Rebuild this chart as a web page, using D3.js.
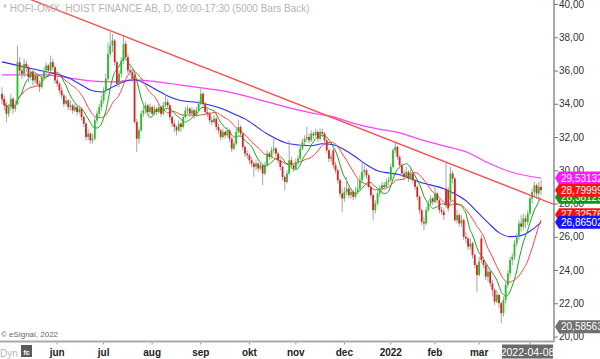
<!DOCTYPE html>
<html><head><meta charset="utf-8">
<script src="https://cdn.jsdelivr.net/npm/d3@7"></script>
<style>body{margin:0;background:#fff}svg{display:block}</style>
</head><body><svg id="c" width="600" height="359"></svg>
<script>
// ---- data ----
const opens=[34.6,34.3,33.9,33.4,33.8,34.3,33.7,34.0,36.5,36.0,35.8,36.4,36.2,35.6,35.9,35.4,35.7,35.2,35.0,35.6,36.0,36.3,36.0,36.5,36.2,35.4,35.2,34.8,34.5,34.0,34.2,33.8,33.9,33.6,33.8,33.5,33.7,33.2,32.8,32.0,32.2,31.8,31.9,33.0,33.4,33.8,34.2,34.8,35.5,37.0,37.5,37.8,36.5,35.2,35.8,36.6,37.6,36.8,36.0,35.9,35.7,32.9,31.9,32.4,33.4,33.6,33.9,33.5,33.8,33.4,33.7,33.5,33.8,33.4,33.9,34.1,33.9,33.2,32.8,32.6,32.4,32.8,32.6,33.2,33.6,33.7,33.4,33.6,33.3,33.6,34.0,34.6,34.0,33.5,33.4,33.0,32.9,33.1,32.6,32.4,32.0,32.3,32.1,32.4,31.9,31.3,31.6,32.3,32.6,32.2,31.4,31.0,30.9,30.6,30.4,30.2,30.4,30.1,30.3,29.8,30.3,31.0,30.8,31.2,31.3,31.0,30.6,30.2,29.6,29.3,29.8,30.6,30.3,30.1,30.5,30.7,31.3,31.7,31.9,32.0,31.8,32.2,32.1,32.3,31.9,32.3,32.2,31.8,31.2,30.7,31.2,30.3,30.0,29.4,28.6,28.3,28.7,28.9,28.5,28.7,28.4,28.7,28.9,29.4,29.9,30.0,29.7,29.0,28.5,27.6,28.0,28.6,28.9,29.1,29.0,29.3,29.4,30.2,31.2,31.4,30.8,30.3,29.8,29.6,29.9,29.5,29.8,29.4,29.0,28.4,27.6,26.9,26.8,27.6,28.0,28.3,28.1,28.6,28.2,27.6,27.5,28.9,28.8,28.2,29.8,29.5,27.0,27.3,26.8,27.0,26.0,25.9,25.4,25.6,24.9,24.3,23.7,25.9,24.6,24.3,23.6,23.9,23.2,22.8,22.1,22.5,22.0,21.4,22.2,23.1,23.8,24.6,24.8,25.6,26.0,26.8,26.6,27.1,26.9,27.4,28.3,28.7,29.1,28.6,29.0];
const highs=[35.0,34.5,34.1,34.0,34.6,34.4,34.2,37.5,36.8,36.3,36.7,36.6,36.3,36.1,36.0,35.9,35.8,35.4,35.8,36.2,36.5,36.4,36.9,36.7,36.3,35.6,35.3,35.0,34.6,34.5,34.3,34.2,34.0,34.0,33.9,33.9,33.8,33.3,32.9,32.5,32.3,32.2,33.2,33.6,34.0,34.5,35.0,35.8,37.7,38.3,38.2,37.9,36.6,36.0,36.8,38.1,37.8,37.0,36.4,36.1,35.8,33.1,32.6,33.6,33.9,34.1,34.0,34.0,33.9,33.9,33.8,34.0,33.9,34.1,34.6,34.3,34.0,33.3,33.0,32.7,33.0,32.9,33.4,33.8,33.9,33.8,33.8,33.7,33.8,34.2,34.9,34.7,34.1,33.7,33.5,33.2,33.3,33.2,32.8,32.5,32.5,32.4,32.6,32.5,32.0,31.8,32.5,33.0,32.7,32.3,31.5,31.2,31.0,30.8,30.5,30.6,30.5,30.5,30.4,30.5,31.2,31.1,31.4,31.9,31.4,31.1,30.7,30.3,29.7,30.0,31.8,30.8,30.4,30.7,30.9,31.5,31.9,32.1,32.6,32.2,32.4,32.3,32.5,32.4,32.5,32.5,32.3,31.9,31.3,31.0,31.4,30.5,30.1,29.5,28.9,29.0,29.6,29.0,28.9,28.8,29.0,29.4,29.7,30.5,30.3,30.1,29.8,29.1,28.6,28.2,28.8,29.1,29.3,29.3,29.5,29.6,30.4,31.3,31.7,31.5,30.9,30.4,30.0,30.2,30.0,30.1,29.9,29.5,29.1,28.5,27.7,27.2,27.8,28.2,28.5,28.4,29.1,28.7,28.3,27.8,27.7,30.5,29.0,30.2,30.0,29.6,27.6,27.4,27.3,27.1,26.3,26.0,25.9,25.7,25.0,24.4,24.8,26.1,24.8,24.4,24.2,24.0,23.4,22.9,22.8,22.6,22.1,22.4,23.3,24.0,24.8,25.0,25.8,26.2,27.0,27.3,27.4,27.3,27.6,28.5,28.9,29.3,29.2,29.3,29.4];
const lows=[34.0,33.6,32.9,33.2,33.6,33.4,33.5,33.9,35.7,35.5,35.6,35.9,35.3,35.4,35.1,35.2,35.0,34.7,34.9,35.4,35.8,35.8,35.9,36.0,35.2,35.0,34.6,34.3,33.8,33.9,33.6,33.6,33.4,33.5,33.3,33.4,33.0,32.6,31.8,31.8,31.6,31.6,31.8,32.8,33.2,33.6,34.0,34.6,35.4,36.8,37.1,36.3,35.0,35.0,35.6,36.4,36.6,35.8,35.7,35.3,32.8,31.1,31.6,32.3,33.2,33.4,33.3,33.4,33.2,33.3,33.3,33.4,33.2,33.3,33.8,33.7,33.0,32.6,32.3,32.1,32.3,32.3,32.5,33.1,33.4,33.2,33.3,33.1,33.2,33.5,33.9,33.8,33.3,33.2,32.8,32.7,32.8,32.4,32.2,31.8,31.9,31.9,32.0,31.7,31.1,31.2,31.5,32.2,32.0,31.2,30.8,30.7,30.4,30.2,29.6,30.0,29.9,30.0,29.1,29.7,30.2,30.6,30.7,31.0,30.8,30.4,30.0,29.4,28.8,29.2,29.7,30.1,29.9,30.0,30.3,30.6,31.2,31.5,31.7,31.6,31.7,31.9,32.0,31.7,31.8,32.0,31.6,31.0,30.5,30.5,30.1,29.8,29.2,28.4,27.5,28.1,28.5,28.3,28.3,28.2,28.3,28.6,28.8,29.3,29.6,29.5,28.9,28.3,27.0,27.4,27.9,28.4,28.7,28.8,28.9,29.1,29.3,30.1,31.0,30.6,30.1,29.6,29.4,29.5,29.3,29.4,29.2,28.8,28.2,27.4,26.7,26.4,26.7,27.5,27.8,27.9,28.0,28.0,27.4,27.3,27.0,27.7,27.5,28.0,29.2,26.9,26.8,26.6,26.6,25.8,25.6,25.2,25.2,24.7,24.1,22.7,23.6,24.4,24.1,23.4,23.3,23.0,22.4,21.9,22.0,21.7,20.8,21.2,22.0,22.9,23.6,24.3,24.6,25.4,25.8,26.3,26.4,26.5,26.7,27.3,28.0,28.4,28.3,28.0,28.5];
const closes=[34.3,33.9,33.4,33.8,34.3,33.7,33.9,36.5,36.0,35.8,36.4,36.2,35.6,35.9,35.4,35.7,35.2,35.0,35.6,36.0,36.3,36.0,36.5,36.2,35.4,35.2,34.8,34.5,34.0,34.2,33.8,33.9,33.6,33.8,33.5,33.7,33.2,32.8,32.0,32.2,31.8,31.9,33.0,33.4,33.8,34.2,34.8,35.5,37.0,37.5,37.8,36.5,35.2,35.8,36.6,37.6,36.8,36.0,35.9,35.5,32.9,31.9,32.4,33.4,33.6,33.9,33.5,33.8,33.4,33.7,33.5,33.8,33.4,33.9,34.1,33.9,33.2,32.8,32.6,32.4,32.8,32.6,33.2,33.6,33.7,33.4,33.6,33.3,33.6,34.0,34.6,34.0,33.5,33.4,33.0,32.9,33.1,32.6,32.4,32.0,32.3,32.1,32.4,31.9,31.3,31.6,32.3,32.6,32.2,31.4,31.0,30.9,30.6,30.4,30.2,30.4,30.1,30.3,29.8,30.3,31.0,30.8,31.2,31.3,31.0,30.6,30.2,29.6,29.3,29.8,30.6,30.3,30.1,30.5,30.7,31.3,31.7,31.9,32.0,31.8,32.2,32.1,32.3,31.9,32.3,32.2,31.8,31.2,30.7,30.8,30.3,30.0,29.4,28.6,28.3,28.7,28.9,28.5,28.7,28.4,28.7,28.9,29.4,29.9,30.0,29.7,29.0,28.5,27.6,28.0,28.6,28.9,29.1,29.0,29.3,29.4,30.2,31.2,31.4,30.8,30.3,29.8,29.6,29.9,29.5,29.8,29.4,29.0,28.4,27.6,26.9,26.8,27.6,28.0,28.3,28.1,28.6,28.2,27.6,27.5,27.3,27.9,27.7,29.8,29.5,27.0,27.3,26.8,27.0,26.0,25.9,25.4,25.6,24.9,24.3,23.7,24.5,24.6,24.3,23.6,23.9,23.2,22.8,22.1,22.5,22.0,21.4,22.2,23.1,23.8,24.6,24.8,25.6,26.0,26.8,26.6,27.1,26.9,27.4,28.3,28.7,29.1,28.6,29.0,28.8];

// longer moving averages at bar indices
const blueIdx=[0,10,20,30,35,40,45,50,55,60,65,70,75,80,90,100,105,110,120,130,140,145,150,155,160,165,170,180,190,200,205,210,215,220,225,230,235,240,244];
const blueVal=[36.52,36.22,35.92,35.56,35.2,34.83,34.71,35.0,35.32,35.44,35.2,34.83,34.47,34.23,34.05,33.69,33.39,33.09,32.19,31.59,31.47,31.59,31.53,31.23,30.81,30.33,29.97,29.73,29.25,28.89,28.59,28.17,27.51,26.85,26.25,26.01,26.07,26.43,26.865];
const magIdx=[0,10,20,30,40,50,60,70,80,90,100,110,120,130,140,150,160,170,180,190,200,210,220,230,240,244];
const magVal=[35.74,35.74,35.74,35.56,35.38,35.32,35.44,35.32,35.14,34.96,34.77,34.47,34.11,33.75,33.45,33.21,32.79,32.49,32.25,31.83,31.47,31.11,30.45,29.91,29.61,29.53];

// trendline anchors (bar index, price)
const trendA={i:55,v:38.08}, trendB={i:178,v:31.68};

const yTicks=[20,22,24,26,28,30,32,34,36,38,40];
const monthKeys=["2021-06","2021-07","2021-08","2021-09","2021-10","2021-11","2021-12","2022-01","2022-02","2022-03","2022-04"];
const monthLabels=["jun","jul","aug","sep","okt","nov","dec","2022","feb","mar",""];
const holidays=["2021-05-13","2021-06-25","2021-12-24","2021-12-31","2022-01-06"];
const tagValues=[29.531322,28.381295,28.799999,27.325769,26.865022,20.585637];
const tagTexts=["29,531322","28,381295","28,799999","27,325769","26,865022","20,585637"];
const tagColors=["#ff1aff","#0a9a0a","#ff1010","#ff1010","#1414ff","#707070"];
const titleText="* HOFI-OMX, HOIST FINANCE AB, D, 09:00-17:30 (5000 Bars Back)";
const lastDate="2022-04-08";

// ---- trading dates ----
const fmt=d3.timeFormat("%Y-%m-%d"), fmtM=d3.timeFormat("%Y-%m");
const dates=d3.timeDay.range(new Date(2021,3,26),new Date(2022,3,9))
  .filter(d=>d.getDay()!==0&&d.getDay()!==6&&!holidays.includes(fmt(d)));

const svg=d3.select("#c");
const FONT="'Liberation Sans', Arial, sans-serif";
const n=closes.length;
const x=d3.scaleLinear().domain([0,n-1]).range([2,541]);
const y=d3.scaleLinear().domain([20,40]).range([336.5,4]);
const plotRight=554, plotBottom=341;

svg.append("defs").append("clipPath").attr("id","plot").append("rect")
  .attr("x",0).attr("y",0).attr("width",plotRight).attr("height",plotBottom);
const g=svg.append("g").attr("clip-path","url(#plot)");

// title
svg.append("text").attr("x",3).attr("y",12).attr("font-family",FONT).attr("font-size",10)
  .attr("fill","#b4b4b4").text(titleText);

// moving averages computed from closes
function sma(arr,w){return arr.map((_,i)=>{const s=arr.slice(Math.max(0,i-w+1),i+1);return d3.mean(s);});}
const greenMA=sma(closes,8), redMA=sma(closes,16);

const line=d3.line().x(d=>x(d[0])).y(d=>y(d[1])).curve(d3.curveMonotoneX);
g.append("path").attr("d",line(magIdx.map((d,k)=>[d,magVal[k]]))).attr("fill","none").attr("stroke","#ff40ff").attr("stroke-width",1.2);
g.append("path").attr("d",line(blueIdx.map((d,k)=>[d,blueVal[k]]))).attr("fill","none").attr("stroke","#2a2aff").attr("stroke-width",1.1);
g.append("path").attr("d",line(redMA.map((v,i)=>[i,v]))).attr("fill","none").attr("stroke","#ff4040").attr("stroke-width",1);
g.append("path").attr("d",line(greenMA.map((v,i)=>[i,v]))).attr("fill","none").attr("stroke","#1aa01a").attr("stroke-width",1);

// candles
const cg=g.append("g");
closes.forEach((c,i)=>{
  const o=opens[i],h=highs[i],l=lows[i],cx=x(i);
  cg.append("line").attr("x1",cx).attr("x2",cx).attr("y1",y(h)).attr("y2",y(l)).attr("stroke","#a4a4a4").attr("stroke-width",1);
  const top=y(Math.max(o,c)),bot=y(Math.min(o,c));
  cg.append("rect").attr("x",cx-0.9).attr("width",1.8).attr("y",top).attr("height",Math.max(1,bot-top))
    .attr("fill",c>=o?"#22c422":"#dd2020");
});

// trendline
const slope=(trendB.v-trendA.v)/(trendB.i-trendA.i);
const tEnd=(plotRight-2)/(x(1)-x(0));
g.append("line").attr("x1",x(0)).attr("y1",y(trendA.v+slope*(0-trendA.i)))
  .attr("x2",x(tEnd)).attr("y2",y(trendA.v+slope*(tEnd-trendA.i)))
  .attr("stroke","#ff4a4a").attr("stroke-width",1.3);

// right axis
svg.append("line").attr("x1",plotRight).attr("x2",plotRight).attr("y1",0).attr("y2",plotBottom+1).attr("stroke","#8c8c8c").attr("stroke-width",1.5);
const ya=svg.append("g").attr("transform",`translate(${plotRight},0)`)
  .call(d3.axisRight(y).tickValues(yTicks).tickSize(4).tickPadding(1).tickFormat(d=>d3.format(".2f")(d).replace(".",",")));
ya.select(".domain").remove();
ya.selectAll("line").attr("stroke","#777");
ya.selectAll("text").attr("font-family",FONT).attr("font-size",10).attr("fill","#333");

// bottom line
svg.append("rect").attr("x",0).attr("y",plotBottom-0.5).attr("width",plotRight).attr("height",2).attr("fill","#aaaaaa");
svg.append("text").attr("x",1).attr("y",337).attr("font-family",FONT).attr("font-size",8).attr("fill","#666").text("\u00a9 eSignal, 2022");

// month ticks & labels
dates.forEach((d,i)=>{
  if(i>0&&d.getMonth()!==dates[i-1].getMonth()){
    const k=monthKeys.indexOf(fmtM(d));
    if(k<0) return;
    const cx=x(i);
    svg.append("line").attr("x1",cx).attr("x2",cx).attr("y1",342.5).attr("y2",344.5).attr("stroke","#999");
    const t=monthLabels[k];
    if(t) svg.append("text").attr("x",cx).attr("y",356).attr("text-anchor","middle").attr("font-family",FONT)
      .attr("font-size",10).attr("font-weight","bold").attr("fill","#222").text(t);
  }
});
svg.append("text").attr("x",0).attr("y",357).attr("font-family",FONT).attr("font-size",10).attr("fill","#b8b8b8").text("Dyn");
svg.append("rect").attr("x",21).attr("y",345).attr("width",11).attr("height",12).attr("fill","#5a5a5a");
svg.append("text").attr("x",26.5).attr("y",355).attr("text-anchor","middle").attr("font-family",FONT).attr("font-size",7).attr("font-weight","bold").attr("fill","#fff").text("fc");
svg.append("rect").attr("x",502).attr("y",344.5).attr("width",51).attr("height",14).attr("fill","#6a6a6a");
svg.append("text").attr("x",527.5).attr("y",355.5).attr("text-anchor","middle").attr("font-family",FONT).attr("font-size",10.5).attr("fill","#fff").text(lastDate);

// value tags
tagValues.forEach((v,k)=>{
  const cy=y(v);
  svg.append("path").attr("d",`M${plotRight+1},${cy} L${plotRight+5},${cy-6.5} L600,${cy-6.5} L600,${cy+6.5} L${plotRight+5},${cy+6.5} Z`).attr("fill",tagColors[k]);
  svg.append("text").attr("x",plotRight+7).attr("y",cy+3.6).attr("font-family",FONT).attr("font-size",10).attr("fill","#fff").text(tagTexts[k]);
});
</script></body></html>
